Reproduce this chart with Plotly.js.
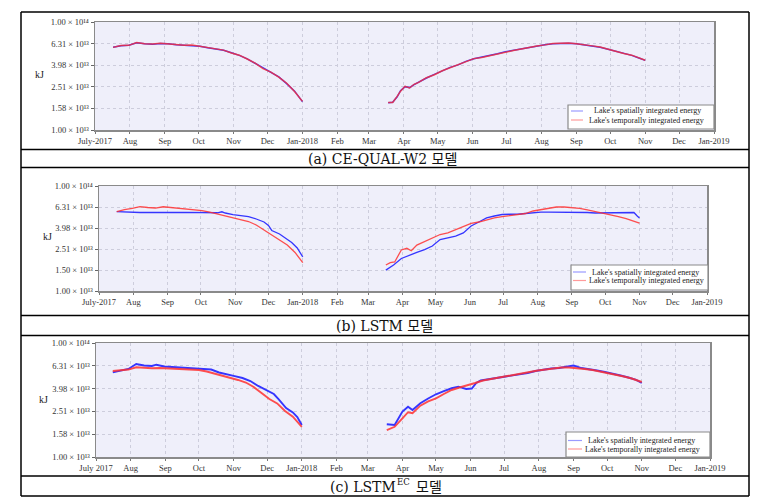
<!DOCTYPE html>
<html><head><meta charset="utf-8">
<script src="https://cdn.plot.ly/plotly-3.0.1.min.js"></script>
<style>html,body{margin:0;padding:0;background:#fff}#chart{width:775px;height:501px}</style>
</head><body><div id="chart"></div><script>
// ---- ticks ----
const monthTicks = ['2017-07-01','2017-08-01','2017-09-01','2017-10-01','2017-11-01','2017-12-01','2018-01-01','2018-02-01','2018-03-01','2018-04-01','2018-05-01','2018-06-01','2018-07-01','2018-08-01','2018-09-01','2018-10-01','2018-11-01','2018-12-01','2019-01-01'];
const monthLabelsAB = ['July-2017','Aug','Sep','Oct','Nov','Dec','Jan-2018','Feb','Mar','Apr','May','Jun','Jul','Aug','Sep','Oct','Nov','Dec','Jan-2019'];
const monthLabelsC = ['July 2017','Aug','Sep','Oct','Nov','Dec','Jan-2018','Feb','Mar','Apr','May','Jun','Jul','Aug','Sep','Oct','Nov','Dec','Jan-2019'];
const yTickVals = [1e13, 1.5849e13, 2.5119e13, 3.9811e13, 6.3096e13, 1e14];
const yTickTextAC = ['1.00 × 10¹³','1.58 × 10¹³','2.51 × 10¹³','3.98 × 10¹³','6.31 × 10¹³','1.00 × 10¹⁴'];
const yTickTextB = ['1.00 × 10¹³','1.50 × 10¹³','2.51 × 10¹³','3.98 × 10¹³','6.31 × 10¹³','1.00 × 10¹⁴'];
const seriesNames = ["Lake's spatially integrated energy", "Lake's temporally integrated energy"];
const captionA = '(a) CE-QUAL-W2 모델';
const captionB = '(b) LSTM 모델';
const captionC = ['(c) LSTM', 'EC', '모델'];
const unitLabel = 'kJ';

// ---- data (values in units of 10^13 kJ) ----
const weeklyDates1 = ['2017-07-17','2017-07-24','2017-07-31','2017-08-07','2017-08-14','2017-08-21','2017-08-28','2017-09-04','2017-09-11','2017-09-18','2017-09-25','2017-10-02','2017-10-09','2017-10-16','2017-10-23','2017-10-30','2017-11-06','2017-11-13','2017-11-20','2017-11-27','2017-12-04','2017-12-11','2017-12-18','2017-12-25','2018-01-01'];
const aDates2 = ['2018-03-18','2018-03-22','2018-03-26','2018-03-29','2018-04-02','2018-04-06','2018-04-10','2018-04-14','2018-04-21','2018-04-28','2018-05-05','2018-05-12','2018-05-19','2018-05-26','2018-06-02','2018-06-09','2018-06-16','2018-06-23','2018-06-30','2018-07-07','2018-07-14','2018-07-21','2018-07-28','2018-08-04','2018-08-11','2018-08-18','2018-08-25','2018-09-01','2018-09-08','2018-09-15','2018-09-22','2018-09-29','2018-10-06','2018-10-13','2018-10-20','2018-10-27','2018-11-01'];
const aBlue1 = [5.84,6.03,6.10,6.43,6.30,6.23,6.32,6.30,6.16,6.10,6.10,5.97,5.78,5.65,5.47,5.19,4.91,4.56,4.14,3.72,3.41,3.10,2.69,2.29,1.83];
const aRed1  = [5.82,6.05,6.08,6.45,6.28,6.25,6.34,6.28,6.18,6.08,6.12,5.95,5.80,5.63,5.49,5.17,4.93,4.54,4.16,3.70,3.43,3.08,2.71,2.27,1.84];
const aBlue2 = [1.79,1.81,2.03,2.31,2.52,2.47,2.63,2.78,3.03,3.27,3.52,3.80,4.01,4.32,4.56,4.71,4.86,5.08,5.30,5.47,5.59,5.84,5.97,6.16,6.30,6.36,6.36,6.30,6.16,6.03,5.84,5.59,5.36,5.13,4.91,4.61,4.41];
const aRed2  = [1.80,1.80,2.05,2.29,2.54,2.45,2.65,2.76,3.05,3.25,3.54,3.78,4.03,4.30,4.58,4.69,4.88,5.06,5.32,5.45,5.61,5.82,5.99,6.14,6.32,6.34,6.38,6.28,6.18,6.01,5.86,5.57,5.38,5.11,4.93,4.59,4.43];

const bBlueDates1 = ['2017-07-17','2017-07-24','2017-07-31','2017-08-07','2017-08-14','2017-08-21','2017-08-28','2017-09-04','2017-09-11','2017-09-18','2017-09-25','2017-10-02','2017-10-09','2017-10-16','2017-10-20','2017-10-23','2017-10-30','2017-11-06','2017-11-13','2017-11-20','2017-11-27','2017-12-01','2017-12-04','2017-12-11','2017-12-18','2017-12-22','2017-12-27','2018-01-01'];
const bBlue1 = [5.69,5.65,5.59,5.59,5.62,5.59,5.62,5.59,5.59,5.62,5.62,5.62,5.59,5.56,5.68,5.53,5.35,5.24,5.12,4.85,4.54,4.21,3.77,3.49,3.13,2.90,2.57,2.11];
const bRed1  = [5.69,5.97,6.11,6.35,6.24,6.17,6.34,6.24,6.11,6.04,5.97,5.82,5.65,5.41,5.24,5.01,4.80,4.59,4.25,3.81,3.38,3.09,2.74,2.33,1.86];
const bBlueDates2 = ['2018-03-17','2018-03-24','2018-03-31','2018-04-07','2018-04-14','2018-04-21','2018-04-28','2018-05-05','2018-05-12','2018-05-19','2018-05-26','2018-06-02','2018-06-09','2018-06-16','2018-06-23','2018-06-30','2018-07-07','2018-07-14','2018-07-21','2018-07-28','2018-08-04','2018-08-11','2018-08-18','2018-08-25','2018-09-01','2018-09-08','2018-09-15','2018-09-22','2018-09-29','2018-10-06','2018-10-13','2018-10-20','2018-10-27','2018-10-30','2018-11-01'];
const bBlue2 = [1.58,1.77,2.04,2.20,2.33,2.48,2.68,3.09,3.20,3.34,3.57,4.16,4.54,4.96,5.18,5.35,5.38,5.38,5.47,5.59,5.65,5.65,5.65,5.65,5.59,5.59,5.59,5.53,5.53,5.53,5.53,5.53,5.59,5.18,4.96];
const bRedDates2 = ['2018-03-17','2018-03-21','2018-03-25','2018-03-31','2018-04-05','2018-04-09','2018-04-14','2018-04-21','2018-04-28','2018-05-05','2018-05-12','2018-05-19','2018-05-26','2018-06-02','2018-06-09','2018-06-16','2018-06-23','2018-06-30','2018-07-07','2018-07-14','2018-07-21','2018-07-28','2018-08-04','2018-08-11','2018-08-18','2018-08-25','2018-09-01','2018-09-08','2018-09-15','2018-09-22','2018-09-29','2018-10-06','2018-10-13','2018-10-20','2018-10-27','2018-11-01'];
const bRed2 = [1.77,1.86,1.89,2.46,2.55,2.42,2.74,2.96,3.23,3.45,3.57,3.81,4.07,4.41,4.54,4.75,4.96,5.10,5.24,5.35,5.47,5.78,5.97,6.17,6.31,6.31,6.24,6.11,5.91,5.72,5.53,5.35,5.12,4.90,4.64,4.44];

const cBlueDates1 = ['2017-07-16','2017-07-23','2017-07-30','2017-08-06','2017-08-13','2017-08-20','2017-08-24','2017-08-31','2017-09-07','2017-09-14','2017-09-21','2017-09-28','2017-10-05','2017-10-12','2017-10-19','2017-10-26','2017-11-02','2017-11-09','2017-11-16','2017-11-23','2017-11-30','2017-12-07','2017-12-11','2017-12-14','2017-12-18','2017-12-24','2017-12-28','2018-01-01'];
const cBlue1 = [5.53,5.74,5.92,6.54,6.35,6.28,6.45,6.22,6.16,6.12,6.06,6.00,5.97,5.85,5.51,5.35,5.13,4.93,4.64,4.20,3.87,3.57,3.23,2.98,2.69,2.46,2.24,1.91];
const cRedDates1 = ['2017-07-16','2017-07-23','2017-07-30','2017-08-06','2017-08-13','2017-08-20','2017-08-27','2017-09-03','2017-09-10','2017-09-17','2017-09-24','2017-10-01','2017-10-08','2017-10-15','2017-10-22','2017-10-29','2017-11-05','2017-11-12','2017-11-19','2017-11-26','2017-12-03','2017-12-10','2017-12-17','2017-12-24','2018-01-01'];
const cRed1 = [5.68,5.80,5.85,6.12,6.03,6.00,6.03,6.00,5.94,5.92,5.85,5.80,5.62,5.40,5.19,4.93,4.74,4.50,4.11,3.64,3.23,2.95,2.53,2.26,1.84];
const cBlueDates2 = ['2018-03-18','2018-03-25','2018-04-01','2018-04-06','2018-04-10','2018-04-17','2018-04-24','2018-05-01','2018-05-08','2018-05-15','2018-05-21','2018-05-28','2018-06-02','2018-06-06','2018-06-10','2018-06-17','2018-06-24','2018-07-01','2018-07-08','2018-07-15','2018-07-22','2018-07-29','2018-08-05','2018-08-12','2018-08-19','2018-08-26','2018-09-01','2018-09-08','2018-09-15','2018-09-22','2018-09-29','2018-10-06','2018-10-13','2018-10-20','2018-10-27','2018-11-01'];
const cBlue2 = [1.94,1.91,2.50,2.76,2.58,2.96,3.26,3.55,3.79,4.01,4.14,3.95,3.99,4.46,4.69,4.78,4.93,5.06,5.19,5.31,5.46,5.68,5.85,5.97,6.03,6.16,6.35,6.03,5.92,5.74,5.57,5.40,5.19,4.98,4.74,4.46];
const cRedDates2 = ['2018-03-18','2018-03-25','2018-04-01','2018-04-06','2018-04-10','2018-04-17','2018-04-24','2018-05-01','2018-05-08','2018-05-15','2018-05-22','2018-05-29','2018-06-05','2018-06-12','2018-06-19','2018-06-26','2018-07-03','2018-07-10','2018-07-17','2018-07-24','2018-07-31','2018-08-07','2018-08-14','2018-08-21','2018-08-28','2018-09-04','2018-09-11','2018-09-18','2018-09-25','2018-10-02','2018-10-09','2018-10-16','2018-10-23','2018-10-30','2018-11-01'];
const cRed2 = [1.72,1.84,2.18,2.47,2.42,2.82,3.07,3.27,3.57,3.87,4.07,4.24,4.46,4.69,4.83,4.98,5.08,5.24,5.40,5.57,5.74,5.85,5.97,6.10,6.10,6.03,5.92,5.80,5.62,5.46,5.29,5.08,4.88,4.64,4.55];

// ---- helpers ----
const W = 775, H = 501;
const PX = x => x / W;
const PY = y => 1 - y / H;
const UNIT = 1e13;
const scale = arr => arr.map(v => v * UNIT);
const BLUE = '#3535ff', RED = '#ff3030';
const SERIF = 'Liberation Serif, DejaVu Serif, serif';
const CAPFONT = 'DejaVu Serif, Noto Sans CJK KR, serif';

// panel geometry in pixels: plot area left,right,top,bottom
const panels = [
  {l:95, r:714, t:22, b:130, lw:1.5, redOp:0.8, ticks:yTickTextAC, xl:monthLabelsAB},
  {l:99, r:707, t:186, b:291, lw:1.3, redOp:0.85, ticks:yTickTextB, xl:monthLabelsAB},
  {l:96, r:710, t:343, b:457, lw:1.9, redOp:0.85, ticks:yTickTextAC, xl:monthLabelsC}
];

const seriesData = [
  [[weeklyDates1, aBlue1, aDates2, aBlue2], [weeklyDates1, aRed1, aDates2, aRed2]],
  [[bBlueDates1, bBlue1, bBlueDates2, bBlue2], [weeklyDates1, bRed1, bRedDates2, bRed2]],
  [[cBlueDates1, cBlue1, cBlueDates2, cBlue2], [cRedDates1, cRed1, cRedDates2, cRed2]]
];

const traces = [];
const layout = {
  width: W, height: H, margin: {l:0, r:0, t:0, b:0},
  paper_bgcolor: '#ffffff', plot_bgcolor: 'rgba(0,0,0,0)', showlegend: false,
  shapes: [], annotations: []
};

panels.forEach((p, i) => {
  const n = i === 0 ? '' : String(i + 1);
  const xa = 'x' + n, ya = 'y' + n;
  layout['xaxis' + n] = {
    domain: [PX(p.l), PX(p.r)], anchor: ya, type: 'date',
    range: ['2017-07-01', '2019-01-01'],
    tickmode: 'array', tickvals: monthTicks, ticktext: p.xl,
    showgrid: true, gridcolor: '#cdcddc', griddash: 'dot', gridwidth: 1,
    showline: true, mirror: true, linecolor: '#8a8a8a', linewidth: 1.5,
    ticks: 'outside', ticklen: 2, tickcolor: '#777',
    tickfont: {family: SERIF, size: 8.5, color: '#333'},
    zeroline: false, fixedrange: true
  };
  layout['yaxis' + n] = {
    domain: [PY(p.b), PY(p.t)], anchor: xa, type: 'log', range: [13, 14],
    tickmode: 'array', tickvals: yTickVals, ticktext: p.ticks,
    showgrid: true, gridcolor: '#cdcddc', griddash: 'dot', gridwidth: 1,
    showline: true, mirror: true, linecolor: '#8a8a8a', linewidth: 1.5,
    ticks: 'outside', ticklen: 3, tickcolor: '#666',
    tickfont: {family: SERIF, size: 8.5, color: '#333'},
    zeroline: false, fixedrange: true
  };
  layout.shapes.push({type:'rect', xref:'paper', yref:'paper', layer:'below',
    x0: PX(p.l), x1: PX(p.r), y0: PY(p.b), y1: PY(p.t), fillcolor:'#efeffa', line:{width:0}});

  const [blue, red] = seriesData[i];
  [[blue, BLUE, 1, 0], [red, RED, p.redOp, 1]].forEach(([s, col, op, k]) => {
    [[s[0], s[1]], [s[2], s[3]]].forEach(([d, v]) => {
      traces.push({type:'scatter', mode:'lines', x: d, y: scale(v), xaxis: xa, yaxis: ya,
        name: seriesNames[k], opacity: op, line:{color: col, width: p.lw}, hoverinfo:'skip'});
    });
  });
});

// ---- legends (drawn boxes) ----
const legends = [
  {x0:568, x1:714, y0:105, y1:129, s0:571, s1:583, t1x:592, t1y:111, t2x:587, t2y:120},
  {x0:571, x1:708, y0:265, y1:290, s0:573, s1:586, t1x:590, t1y:272, t2x:587, t2y:280.5},
  {x0:566, x1:710, y0:432, y1:457, s0:568, s1:582, t1x:586, t1y:440.5, t2x:583, t2y:449}
];
legends.forEach(g => {
  layout.shapes.push({type:'rect', xref:'paper', yref:'paper', x0:PX(g.x0), x1:PX(g.x1), y0:PY(g.y1), y1:PY(g.y0),
    fillcolor:'#ffffff', line:{color:'#8a8a8a', width:1.2}});
  layout.shapes.push({type:'line', xref:'paper', yref:'paper', x0:PX(g.s0), x1:PX(g.s1), y0:PY(g.t1y), y1:PY(g.t1y), line:{color:'#9a9aff', width:1.2}});
  layout.shapes.push({type:'line', xref:'paper', yref:'paper', x0:PX(g.s0), x1:PX(g.s1), y0:PY(g.t2y), y1:PY(g.t2y), line:{color:'#ff9a9a', width:1.2}});
  layout.annotations.push({xref:'paper', yref:'paper', x:PX(g.t1x), y:PY(g.t1y), xanchor:'left', yanchor:'middle', showarrow:false,
    text: seriesNames[0], font:{family:SERIF, size:8, color:'#222'}});
  layout.annotations.push({xref:'paper', yref:'paper', x:PX(g.t2x), y:PY(g.t2y), xanchor:'left', yanchor:'middle', showarrow:false,
    text: seriesNames[1], font:{family:SERIF, size:8, color:'#222'}});
});

// ---- kJ labels ----
[[39,74],[47,236],[43,399]].forEach(([x,y]) => {
  layout.annotations.push({xref:'paper', yref:'paper', x:PX(x), y:PY(y), xanchor:'center', yanchor:'middle', showarrow:false,
    text: unitLabel, font:{family:SERIF, size:10, color:'#222'}});
});

// ---- captions ----
const cap = (text, x, y, anchor, size) => layout.annotations.push({xref:'paper', yref:'paper', x:PX(x), y:PY(y),
  xanchor:anchor, yanchor:'middle', showarrow:false, borderpad:0, text:text, font:{family:CAPFONT, size:size, color:'#111'}});
cap(captionA, 382, 158.5, 'center', 14);
cap(captionB, 384, 325.5, 'center', 14);
cap(captionC[0], 397, 486.5, 'right', 14);
cap(captionC[1], 396, 482, 'left', 8.5);
cap(captionC[2], 415, 486.5, 'left', 14);

// ---- table borders ----
[12, 149.5, 167.5, 315.5, 335.5, 476, 496].forEach(y => {
  layout.shapes.push({type:'line', xref:'paper', yref:'paper', x0:PX(21), x1:PX(749), y0:PY(y), y1:PY(y), line:{color:'#000', width:1.5}});
});
[21, 749].forEach(x => {
  layout.shapes.push({type:'line', xref:'paper', yref:'paper', x0:PX(x), x1:PX(x), y0:PY(12), y1:PY(496), line:{color:'#000', width:1.5}});
});

Plotly.newPlot('chart', traces, layout, {staticPlot:true, displayModeBar:false});
</script></body></html>
